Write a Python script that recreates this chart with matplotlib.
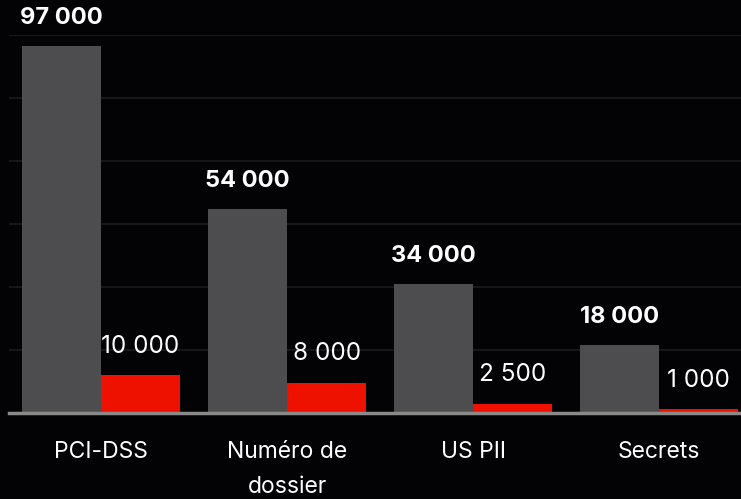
import matplotlib
matplotlib.use("Agg")
import matplotlib.pyplot as plt
import numpy as np

plt.rcParams['font.family'] = ['Inter', 'DejaVu Sans']

categories = ["PCI-DSS", "Numéro de\ndossier", "US PII", "Secrets"]
total_values = [97000, 54000, 34000, 18000]
flagged_values = [10000, 8000, 2500, 1000]

def fmt(v):
    return f"{v:,}".replace(",", " ")

bg = "#030305"
grey = "#4d4d4f"
red = "#ee1100"

fig = plt.figure(figsize=(7.41, 4.99), dpi=100, facecolor=bg)
ax = fig.add_axes([9 / 741, 1 - 413 / 499, 732 / 741, 378 / 499])
ax.set_facecolor(bg)

x = np.arange(len(categories))
w = 0.425
b1 = ax.bar(x - w / 2, total_values, width=w, color=grey, zorder=3)
b2 = ax.bar(x + w / 2, flagged_values, width=w, color=red, zorder=3)

for rect, v in zip(b1, total_values):
    ax.annotate(fmt(v), (rect.get_x() + rect.get_width() / 2, v),
                xytext=(0, 12.5), textcoords="offset points",
                ha="center", va="bottom", color="white",
                fontsize=17, fontweight="bold")
for rect, v in zip(b2, flagged_values):
    ax.annotate(fmt(v), (rect.get_x() + rect.get_width() / 2, v),
                xytext=(0, 12.5), textcoords="offset points",
                ha="center", va="bottom", color="white",
                fontsize=17.5)

ax.set_xlim(-0.495, 3.44)
ax.set_ylim(0, 100000)
ax.set_yticks(np.linspace(0, 100000, 7))
ax.yaxis.grid(True, color="#1c1c1f", linewidth=1.2, zorder=0)
ax.tick_params(axis="y", left=False, labelleft=False)
ax.set_xticks(x)
ax.set_xticklabels(categories, color="white", fontsize=16.5, linespacing=1.75)
ax.tick_params(axis="x", bottom=False, pad=17)

for s in ["top", "right", "left"]:
    ax.spines[s].set_visible(False)
ax.spines["bottom"].set_color("#8a8a8a")
ax.spines["bottom"].set_linewidth(2.5)
ax.spines["bottom"].set_zorder(4)

fig.savefig("out.png", dpi=100, facecolor=bg)
